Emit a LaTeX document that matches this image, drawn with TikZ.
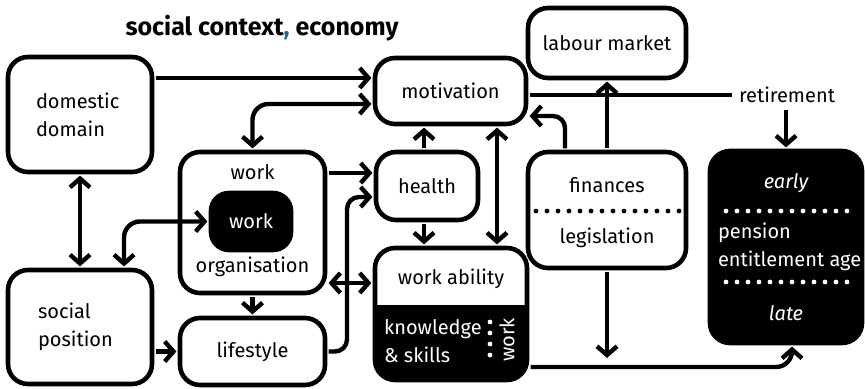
\documentclass[tikz,border=0pt]{standalone}
\usepackage{fontspec}
\setmainfont{Fira Sans}
\usetikzlibrary{arrows.meta, calc, positioning}
\definecolor{commablue}{RGB}{28,108,138}
\tikzstyle{block} = [rectangle, rounded corners=10pt, line width=2.3pt, draw=black, fill=white, outer sep=1.8pt]
\tikzstyle{darkblock} = [block, fill=black, text=white]
\tikzstyle{arrow} = [line width=2.2pt, ->, >={Straight Barb[length=4.4pt,width=10pt]}]
\tikzstyle{biarrow} = [arrow, <->]
\tikzstyle{dotline} = [line width=2.4pt, line cap=round, dash pattern=on 0pt off 5.5pt]

\begin{document}
\begin{tikzpicture}[x=0.5pt, y=-0.5pt, font=\fontsize{10}{14}\selectfont]
		\useasboundingbox (0,0) rectangle (865,389);
		\node (Title) at (262,28) {\bfseries\fontsize{12.5}{14}\selectfont social context\textcolor{commablue}{,} economy};
		\node (Domestic) [block, minimum width=72pt, minimum height=57.5pt, text width=44pt, align=left] at (80,114.5) {domestic\\domain};
		\node (Social) [block, minimum width=72pt, minimum height=57pt, text width=42pt, align=left] at (80,327) {social\\position};
		\node (Motivation) [block, minimum width=75.5pt, minimum height=33pt] at (450.5,91) {motivation};
		\node (Labour) [block, minimum width=79pt, minimum height=35pt] at (607,43) {labour market};
		\node (Health) [block, minimum width=51pt, minimum height=34pt] at (427,186) {health};
		\node (WorkOrg) [block, minimum width=72.5pt, minimum height=70.5pt] at (252.5,222.5) {};
		\node (Work) [darkblock, minimum width=40pt, minimum height=28.5pt, rounded corners=9pt] at (251,221.5) {work};
		\node (WorkLabel) at (252.5,172) {work};
		\node (OrgLabel) at (252.5,267) {organisation};
		\node (Lifestyle) [block, minimum width=72.5pt, minimum height=33.5pt] at (252.5,351.5) {lifestyle};
		\node (WorkAbility) [block, minimum width=76pt, minimum height=66pt, path picture={\fill[black, sharp corners] (path picture bounding box.south west) rectangle ([yshift=4.5pt]path picture bounding box.east);}] at (451,314) {};
		\node (AbilityLabel) at (451,279) {work ability};
		\node (Knowledge) [anchor=west, text=white, align=left] at (377,341) {knowledge\\\& skills};
		\node (WorkSide) [rotate=90, text=white] at (507,340) {work};
		\draw [dotline, white] (490,322) -- (490,360);
		\node (Finances) [block, minimum width=79pt, minimum height=58pt] at (607,210) {};
		\node (FinLabel) at (607,185) {finances};
		\node (LegLabel) at (607,238) {legislation};
		\draw [dotline] (536,211) -- (680,211);
		\node (Pension) [darkblock, minimum width=76pt, minimum height=96pt] at (786,247) {};
		\node (Early) [text=white] at (786,183) {\itshape early};
		\node (PensionAge) [anchor=west, text=white, align=left] at (711,246.5) {pension\\entitlement age};
		\node (Late) [text=white] at (786,313) {\itshape late};
		\draw [dotline, white] (726,211) -- (856,211);
		\draw [dotline, white] (726,282) -- (856,282);
		\node (Retirement) at (787,95) {retirement};
		\draw [arrow] (Domestic.east |- 0,78) -- (Motivation.west |- 0,78);
		\draw [biarrow, rounded corners=8pt] (Motivation.west |- 0,104) -| (WorkOrg.north);
		\draw [biarrow] (Domestic.south) -- (Social.north);
		\draw [biarrow, rounded corners=8pt] (Social.north -| 124,0) |- (Work.west);
		\draw [arrow] (WorkOrg.east |- 0,173) -- (Health.west |- 0,173);
		\draw [arrow, rounded corners=6pt] (Lifestyle.east) -| (347,197) -- (Health.west |- 0,197);
		\draw [biarrow] (WorkOrg.east |- 0,283) -- (WorkAbility.west |- 0,283);
		\draw [arrow] (WorkOrg.south) -- (Lifestyle.north);
		\draw [arrow] (Social.east |- Lifestyle.east) -- (Lifestyle.west);
		\draw [arrow] (Health.north -| 424,0) -- (Motivation.south -| 424,0);
		\draw [arrow] (Health.south -| 424,0) -- (WorkAbility.north -| 424,0);
		\draw [biarrow] (Motivation.south -| 497,0) -- (WorkAbility.north -| 497,0);
		\draw [arrow, rounded corners=6pt] (Finances.north -| 565,0) |- (Motivation.east |- 0,116);
		\draw [arrow] (Finances.north) -- (Labour.south);
		\draw [line width=2.2pt] (Motivation.east |- 0,95) -- (Retirement.west);
		\draw [arrow] (Retirement.south -| Pension.north) -- (Pension.north);
		\draw [arrow] (Finances.south) -- (Finances.south |- 0,358);
		\draw [arrow, rounded corners=8pt] (WorkAbility.east |- 0,367) -| ($(Pension.south)+(6,0)$);
\end{tikzpicture}
\end{document}
